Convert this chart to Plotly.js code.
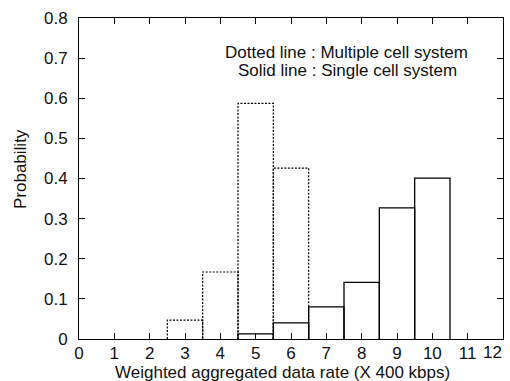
<!DOCTYPE html>
<html>
<head>
<meta charset="utf-8">
<script src="https://cdn.plot.ly/plotly-3.0.1.min.js"></script>
<style>html,body{margin:0;padding:0;background:#fff;}#chart{width:510px;height:381px;}</style>
</head>
<body>
<div id="chart"></div>
<script>
// Data
var binCenters = [1, 2, 3, 4, 5, 6, 7, 8, 9, 10, 11];
var multipleCell = [0, 0, 0.047, 0.167, 0.587, 0.426, 0, 0, 0, 0, 0];   // dotted
var singleCell   = [0, 0, 0, 0, 0.013, 0.040, 0.080, 0.141, 0.327, 0.401, 0]; // solid
var xTickVals = [0,1,2,3,4,5,6,7,8,9,10,11,12];
var yTickVals = [0,0.1,0.2,0.3,0.4,0.5,0.6,0.7,0.8];
var noteLines = ["Dotted line : Multiple cell system", "Solid line : Single cell system"];
var xTitle = 'Weighted aggregated data rate (X 400 kbps)';
var yTitle = 'Probability';

function outline(centers, vals, width) {
  var xs = [], ys = [];
  for (var i = 0; i < centers.length; i++) {
    if (!vals[i]) continue;
    var a = centers[i] - width / 2, b = centers[i] + width / 2;
    xs.push(a, a, b, b, null);
    ys.push(0, vals[i], vals[i], 0, null);
  }
  return {x: xs, y: ys};
}

var d1 = outline(binCenters, multipleCell, 1);
var d2 = outline(binCenters, singleCell, 1);

var traces = [
  {x: d1.x, y: d1.y, type: 'scatter', mode: 'lines', connectgaps: false,
   line: {color: '#000', width: 1.2, dash: '2px,1.5px'}, hoverinfo: 'skip', cliponaxis: false},
  {x: d2.x, y: d2.y, type: 'scatter', mode: 'lines', connectgaps: false,
   line: {color: '#000', width: 1.3}, hoverinfo: 'skip', cliponaxis: false}
];

var fontFam = 'Liberation Sans, Arial, Helvetica, sans-serif';
var FS = 17;
var lastX = xTickVals[xTickVals.length - 1];
var layout = {
  width: 510, height: 381,
  margin: {l: 79, r: 7, t: 18, b: 42},
  paper_bgcolor: '#fff', plot_bgcolor: '#fff',
  showlegend: false,
  font: {family: fontFam, size: FS, color: '#111'},
  xaxis: {
    range: [0, 12], tickvals: xTickVals,
    ticktext: xTickVals.map(function(v){ return v === lastX ? '' : String(v); }),
    ticks: 'inside', ticklen: 6, tickwidth: 1, tickcolor: '#000',
    showline: true, linecolor: '#000', linewidth: 1, mirror: 'ticks',
    showgrid: false, zeroline: false, ticklabeloverflow: 'allow', ticklabelstandoff: -1,
    tickfont: {size: FS}
  },
  yaxis: {
    range: [0, 0.8], tickvals: yTickVals, ticktext: yTickVals.map(function(v){return v===0?'0':v.toFixed(1);}),
    ticks: 'inside', ticklen: 6, tickwidth: 1, tickcolor: '#000',
    showline: true, linecolor: '#000', linewidth: 1, mirror: 'ticks',
    showgrid: false, zeroline: false, ticklabeloverflow: 'allow', ticklabelstandoff: 7,
    tickfont: {size: FS}
  },
  annotations: [
    {text: noteLines[0], xref: 'paper', yref: 'paper', x: 0.632, y: (339-52)/321,
     showarrow: false, xanchor: 'center', yanchor: 'middle', font: {size: FS}},
    {text: noteLines[1], xref: 'paper', yref: 'paper', x: 0.634, y: (339-70)/321,
     showarrow: false, xanchor: 'center', yanchor: 'middle', font: {size: FS}},
    {text: String(lastX), xref: 'x', yref: 'paper', x: lastX, xshift: 1, y: 0, yshift: -13,
     showarrow: false, xanchor: 'right', yanchor: 'middle', font: {size: FS}},
    {text: xTitle, xref: 'paper', yref: 'paper', x: 0.48, y: 0, yshift: -33,
     showarrow: false, xanchor: 'center', yanchor: 'middle', font: {size: FS}},
    {text: yTitle, xref: 'paper', yref: 'paper', x: 0, xshift: -59, y: (339-169)/321,
     textangle: -90, showarrow: false, xanchor: 'center', yanchor: 'middle', font: {size: FS}}
  ]
};

Plotly.newPlot('chart', traces, layout, {staticPlot: true, displayModeBar: false});
</script>
</body>
</html>
